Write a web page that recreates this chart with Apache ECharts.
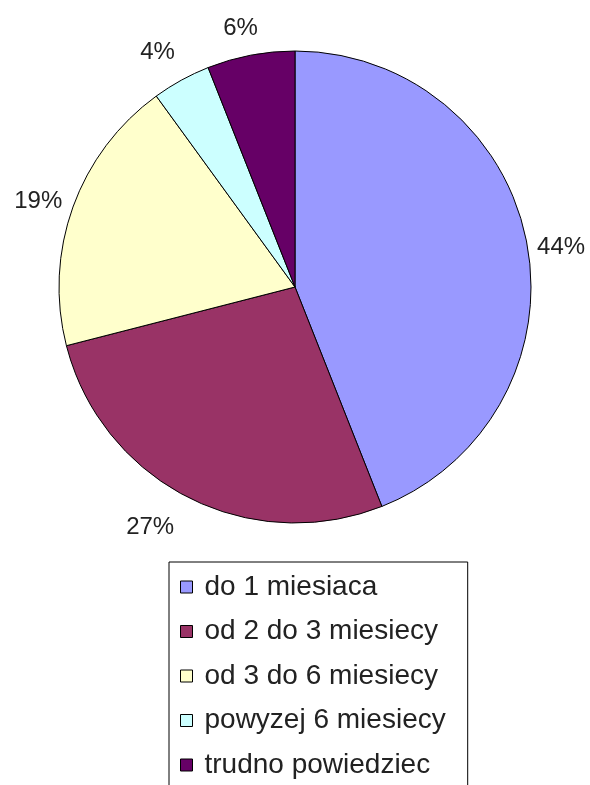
<!DOCTYPE html>
<html>
<head>
<meta charset="utf-8">
<script src="https://cdn.jsdelivr.net/npm/echarts@6/dist/echarts.min.js"></script>
<style>
  html, body { margin: 0; padding: 0; background: #fff; }
  #chart { width: 590px; height: 785px; }
</style>
</head>
<body>
<div id="chart"></div>
<script>
const categories = ["do 1 miesiaca", "od 2 do 3 miesiecy", "od 3 do 6 miesiecy", "powyzej 6 miesiecy", "trudno powiedziec"];
const values = [44, 27, 19, 4, 6];
const colors = ["#9999FF", "#993366", "#FFFFCC", "#CCFFFF", "#660066"];

// small nudges so the percent labels sit where Excel put them
const labelOffsets = [[-4, 12], [-20, -5], [2, 8], [-5, 6], [-3, 12]];

const chart = echarts.init(document.getElementById("chart"));

const option = {
  animation: false,
  legend: {
    data: categories,
    orient: "vertical",
    left: 169,
    top: 562,
    height: 280,
    padding: [10, 22, 20, 11],
    itemGap: 14.5,
    itemWidth: 12,
    itemHeight: 12,
    icon: "rect",
    borderColor: "#000",
    borderWidth: 1,
    backgroundColor: "#fff",
    selectedMode: false,
    itemStyle: { borderColor: "#000", borderWidth: 1 },
    textStyle: {
      fontFamily: "Liberation Sans",
      fontSize: 28,
      lineHeight: 30,
      color: "#222",
      padding: [0, 0, 0, 7]
    }
  },
  series: [
    {
      name: "main",
      type: "pie",
      center: [295, 287],
      radius: [0, 236],
      startAngle: 90,
      clockwise: true,
      silent: true,
      itemStyle: { borderColor: "#000", borderWidth: 1 },
      label: { show: false },
      labelLine: { show: false },
      data: categories.map((name, i) => ({
        name,
        value: values[i],
        itemStyle: { color: colors[i] }
      }))
    },
    {
      name: "labels",
      type: "pie",
      center: [295, 287],
      radius: [250, 294],
      startAngle: 90,
      clockwise: true,
      silent: true,
      itemStyle: { color: "rgba(0,0,0,0)", borderWidth: 0 },
      label: {
        show: true,
        position: "inside",
        formatter: "{c}%",
        fontFamily: "Liberation Sans",
        fontSize: 24,
        color: "#222"
      },
      labelLine: { show: false },
      data: categories.map((name, i) => ({
        name,
        value: values[i],
        label: { offset: labelOffsets[i] }
      }))
    }
  ]
};

chart.setOption(option);
</script>
</body>
</html>
